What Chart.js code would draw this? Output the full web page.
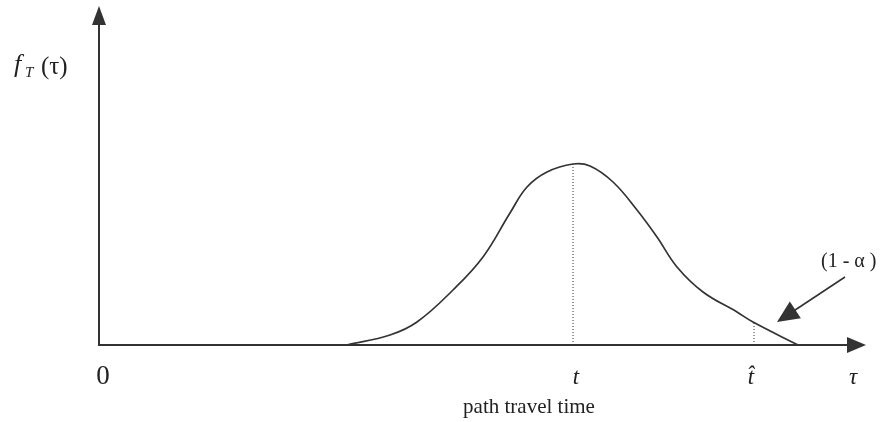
<!DOCTYPE html>
<html>
<head>
<meta charset="utf-8">
<script src="https://cdn.jsdelivr.net/npm/chart.js@4"></script>
<style>
  html, body { margin: 0; padding: 0; background: #fff; }
  canvas { display: block; }
</style>
</head>
<body>
<canvas id="chart" width="893" height="422"></canvas>
<script>
// travel time (tau) and density values
const tau = [248, 291, 318, 354, 384, 411, 428, 448, 474, 491, 514, 538, 558, 578, 604, 638, 654, 699];
const density = [0, 10, 23, 55, 88, 132, 158, 173, 181, 179, 163, 135, 108, 78, 53, 33, 23, 0];

// marked times: mean t and the (1 - alpha) quantile t-hat
const meanTime = 474;
const meanDensity = 181;
const quantileTime = 655;
const quantileDensity = 22;

// x-axis labels and where they sit
const tickLabels = ["0", "t", "t\u0302", "\u03c4"];
const tickValues = [4, 477, 652, 754];
const axisTitle = "path travel time";

// pointer to the tail area
const tailLabel = "(1 - \u03b1 )";
const tailArrowFrom = { x: 746, y: 68 };
const tailArrowTo = { x: 678, y: 23 };

const xMax = 767;
const yMax = 339;
const ink = "#333";

function arrowHead(ctx, tipX, tipY, fromX, fromY, len, half) {
  const a = Math.atan2(tipY - fromY, tipX - fromX);
  ctx.beginPath();
  ctx.moveTo(tipX, tipY);
  ctx.lineTo(tipX - len * Math.cos(a) + half * Math.sin(a), tipY - len * Math.sin(a) - half * Math.cos(a));
  ctx.lineTo(tipX - len * Math.cos(a) - half * Math.sin(a), tipY - len * Math.sin(a) + half * Math.cos(a));
  ctx.closePath();
  ctx.fill();
}

// axes with arrows, labels and the tail pointer
const decorations = {
  id: "decorations",
  afterDatasetsDraw(chart) {
    const { ctx, scales: { x, y } } = chart;
    const x0 = x.getPixelForValue(0), y0 = y.getPixelForValue(0);
    const xEnd = x.getPixelForValue(xMax), yEnd = y.getPixelForValue(yMax);
    ctx.save();
    ctx.strokeStyle = ink;
    ctx.fillStyle = ink;
    ctx.lineWidth = 2;
    ctx.beginPath();
    ctx.moveTo(x0, yEnd + 10);
    ctx.lineTo(x0, y0);
    ctx.lineTo(xEnd - 10, y0);
    ctx.stroke();
    arrowHead(ctx, x0, yEnd, x0, y0, 19, 7);
    arrowHead(ctx, xEnd, y0, x0, y0, 19, 8);

    // pointer
    const fx = x.getPixelForValue(tailArrowFrom.x), fy = y.getPixelForValue(tailArrowFrom.y);
    const tx = x.getPixelForValue(tailArrowTo.x), ty = y.getPixelForValue(tailArrowTo.y);
    ctx.lineWidth = 1.6;
    ctx.beginPath();
    ctx.moveTo(fx, fy);
    ctx.lineTo(tx + (fx - tx) * 0.25, ty + (fy - ty) * 0.25);
    ctx.stroke();
    arrowHead(ctx, tx, ty, fx, fy, 22, 10);

    // tick labels
    ctx.textBaseline = "alphabetic";
    ctx.textAlign = "center";
    ctx.fillStyle = "#222";
    tickLabels.forEach((lab, i) => {
      const px = x.getPixelForValue(tickValues[i]);
      ctx.font = i === 0 ? "27px 'Liberation Serif'" : "italic 23px 'Liberation Serif'";
      ctx.fillText(lab, px, y0 + 39);
    });
    ctx.font = "21px 'Liberation Serif'";
    ctx.fillText(axisTitle, 529, y0 + 68);

    // y label f_T(tau)
    ctx.textAlign = "left";
    ctx.font = "italic 26px 'Liberation Serif'";
    ctx.fillText("f", 14, 72);
    ctx.font = "italic 15px 'Liberation Serif'";
    ctx.fillText("T", 25, 77);
    ctx.font = "25px 'Liberation Serif'";
    ctx.fillText("(\u03c4)", 41, 74);

    ctx.font = "20px 'Liberation Serif'";
    ctx.fillText(tailLabel, 821, 267);
    ctx.restore();
  }
};

new Chart(document.getElementById("chart"), {
  type: "scatter",
  data: {
    datasets: [
      {
        data: tau.map((t, i) => ({ x: t, y: density[i] })),
        showLine: true,
        borderColor: ink,
        borderWidth: 1.7,
        pointRadius: 0,
        tension: 0.4,
      },
      {
        data: [{ x: meanTime, y: 0 }, { x: meanTime, y: meanDensity }],
        showLine: true,
        borderColor: ink,
        borderWidth: 1,
        borderDash: [1, 2],
        pointRadius: 0,
      },
      {
        data: [{ x: quantileTime, y: 0 }, { x: quantileTime, y: quantileDensity }],
        showLine: true,
        borderColor: ink,
        borderWidth: 1,
        borderDash: [1, 2],
        pointRadius: 0,
      },
    ],
  },
  options: {
    responsive: false,
    animation: false,
    layout: { padding: { left: 99, right: 27, top: 6, bottom: 77 } },
    plugins: { legend: { display: false }, tooltip: { enabled: false } },
    scales: {
      x: { type: "linear", min: 0, max: xMax, display: false },
      y: { type: "linear", min: 0, max: yMax, display: false },
    },
  },
  plugins: [decorations],
});
</script>
</body>
</html>
